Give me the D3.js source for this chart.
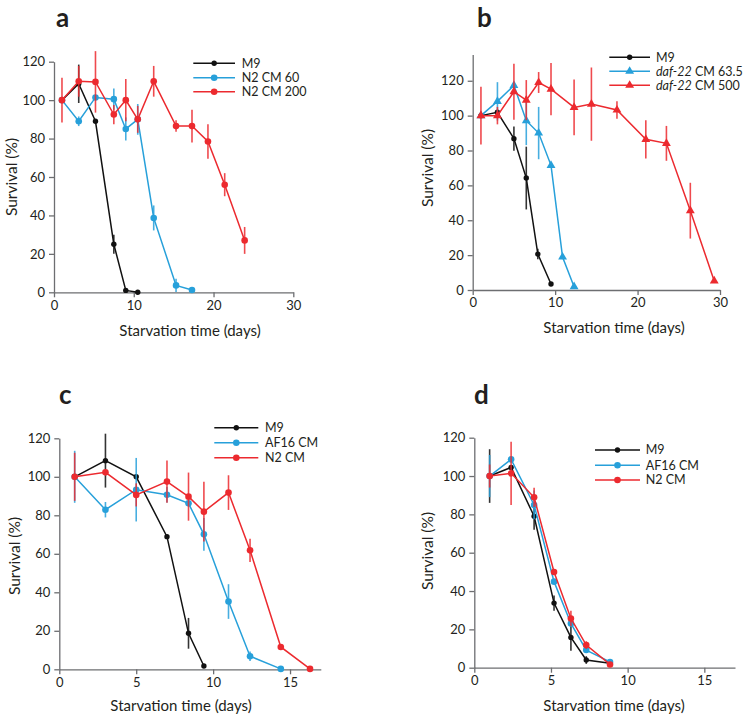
<!DOCTYPE html>
<html><head><meta charset="utf-8">
<script src="https://cdn.jsdelivr.net/npm/d3@7"></script>
<style>
body{margin:0;background:#fff}
svg text{font-family:Lato,"Open Sans",sans-serif;fill:#231f20}
</style></head><body>
<svg id="chart" width="744" height="718"></svg>
<script>
// ---------- DATA ----------
// Panel a
const aM9Days   = [1, 3.1, 5.2, 7.5, 9, 10.5];
const aM9       = [100, 108.5, 89, 25, 1, 0];
const aM9Err    = [0, 10, 0, 5, 0, 0];
const aN2_60Days = [1, 3.1, 5.2, 7.5, 9, 10.5, 12.5, 15.3, 17.3];
const aN2_60     = [100, 89, 101.4, 100.5, 85, 90, 38.7, 3.6, 1.2];
const aN2_60Err  = [0, 2.5, 0, 5.5, 6, 8, 6.5, 3.5, 0];
const aN2_200Days = [1, 3.1, 5.2, 7.5, 9, 10.5, 12.5, 15.3, 17.3, 19.3, 21.4, 23.9];
const aN2_200     = [100, 109.8, 109.5, 92.5, 100, 90, 109.8, 86.5, 86.5, 78.5, 56, 27];
const aN2_200Err  = [11.7, 8, 16, 5, 11, 7, 8, 3, 8.5, 9, 6, 7];
const aLegend = ["M9", "N2 CM 60", "N2 CM 200"];

// Panel b
const bM9Days = [1, 3, 5, 6.5, 7.9, 9.5];
const bM9     = [100, 101.9, 86.8, 64.2, 20.6, 3.4];
const bM9Err  = [0, 0, 7, 18, 3, 0];
const bD63Days = [1, 3, 5, 6.5, 8, 9.5, 10.9, 12.3];
const bD63     = [100, 108.2, 117.3, 97.1, 90, 71.5, 18.9, 1.9];
const bD63Err  = [0, 11, 0, 14, 15, 0, 0, 0];
const bD500Days = [1, 3, 5, 6.5, 8, 9.5, 12.3, 14.4, 17.5, 21, 23.5, 26.4, 29.3];
const bD500     = [100, 100, 113.7, 108.9, 119, 115.2, 104.7, 106.6, 103.2, 86.4, 84.1, 45.5, 5.2];
const bD500Err  = [16.5, 5, 16, 11.5, 6, 15, 16, 21, 5, 11, 10, 16, 0];
const bLegendItalic = ["", "daf-22", "daf-22"];
const bLegendRest   = ["M9", " CM 63.5", " CM 500"];

// Panel c
const cM9Days = [1, 3, 5, 7, 8.4, 9.4];
const cM9     = [100, 108.4, 100, 68.9, 18.7, 1.7];
const cM9Err  = [0, 14, 0, 0, 8, 0];
const cAFDays = [1, 3, 5, 7, 8.4, 9.4, 11, 12.4, 14.4];
const cAF     = [100, 82.9, 93.3, 90.7, 86.2, 70.1, 35.2, 6.8, 0.2];
const cAFErr  = [13.5, 4, 16.5, 4, 0, 8.5, 9, 2.5, 0];
const cN2Days = [1, 3, 5, 7, 8.4, 9.4, 11, 12.4, 14.4, 16.3];
const cN2     = [100, 102.3, 90.6, 97.5, 89.7, 81.9, 91.8, 61.8, 11.6, 0.2];
const cN2Err  = [12.5, 0, 6, 11, 12.5, 15.5, 9, 6, 0, 0];
const cLegend = ["M9", "AF16 CM", "N2 CM"];

// Panel d
const dDays  = [1, 2.4, 3.9, 5.2, 6.3, 7.3, 8.85];
const dM9    = [100, 104.5, 79, 33.7, 15.8, 4, 2.3];
const dM9Err = [14, 0, 7, 4, 7, 2, 0];
const dAF    = [100, 108.7, 84.9, 44.9, 23.1, 9.2, 3];
const dAFErr = [11, 0, 7.5, 0, 0, 0, 1];
const dN2    = [100, 101.4, 88.9, 49.9, 25.7, 11.8, 1.7];
const dN2Err = [6, 16.5, 5, 0, 4, 2, 0];
const dLegend = ["M9", "AF16 CM", "N2 CM"];

const yTicks = [0, 20, 40, 60, 80, 100, 120];
const xTicks30 = [0, 10, 20, 30];
const xTicks15 = [0, 5, 10, 15];

// ---------- STYLE ----------
const BLACK = "#111111", BLUE = "#27a0da", RED = "#ec2a2f";
const AXIS = "#6d6e71";

const mk = (days, vals, errs, color, shape) =>
  ({pts: days.map((d, i) => ({x: d, y: vals[i], e: errs[i]})), color, shape});

const panels = [
  {label: "a", xDom: [0, 30], xR: [54, 293.3], yDom: [0, 120], yR: [292.3, 61.7], xTicks: xTicks30,
   lab: [56, 26.5], ylab: [12, 177], xlab: [190, 331],
   series: [mk(aM9Days, aM9, aM9Err, BLACK, "c"), mk(aN2_60Days, aN2_60, aN2_60Err, BLUE, "c"), mk(aN2_200Days, aN2_200, aN2_200Err, RED, "c")],
   legend: {x1: 193.3, x2: 235, tx: 241.7, ys: [63.3, 77.7, 91.7], names: aLegend.map(n => ["", n])}},
  {label: "b", xDom: [0, 30], xR: [472.7, 720], yDom: [0, 135], yR: [290, 54.6], xTicks: xTicks30,
   lab: [477, 26.5], ylab: [428, 168], xlab: [614, 328],
   series: [mk(bM9Days, bM9, bM9Err, BLACK, "c"), mk(bD63Days, bD63, bD63Err, BLUE, "t"), mk(bD500Days, bD500, bD500Err, RED, "t")],
   legend: {x1: 609.3, x2: 650, tx: 656, ys: [57.3, 71.3, 85.3], names: bLegendRest.map((n, i) => [bLegendItalic[i], n])}},
  {label: "c", xDom: [0, 17], xR: [59.3, 320.8], yDom: [0, 120], yR: [669.3, 438.3], xTicks: xTicks15,
   lab: [59, 404], ylab: [15, 556], xlab: [181, 706],
   series: [mk(cM9Days, cM9, cM9Err, BLACK, "c"), mk(cAFDays, cAF, cAFErr, BLUE, "c"), mk(cN2Days, cN2, cN2Err, RED, "c")],
   legend: {x1: 214.3, x2: 258.3, tx: 265, ys: [427.7, 442.7, 457.7], names: cLegend.map(n => ["", n])}},
  {label: "d", xDom: [0, 17], xR: [474.3, 735], yDom: [0, 120], yR: [667.7, 437.7], xTicks: xTicks15,
   lab: [474, 404], ylab: [428, 551], xlab: [614, 706],
   series: [mk(dDays, dM9, dM9Err, BLACK, "c"), mk(dDays, dAF, dAFErr, BLUE, "c"), mk(dDays, dN2, dN2Err, RED, "c")],
   legend: {x1: 595, x2: 640, tx: 645.7, ys: [450, 465.3, 480], names: dLegend.map(n => ["", n])}}
];

const svg = d3.select("#chart");
const tri = d3.symbol().type(d3.symbolTriangle).size(34);

function marker(g, shape, color, x, y, big) {
  if (shape === "t") {
    g.append("path").attr("d", tri).attr("transform", `translate(${x},${y})`).attr("fill", color);
  } else {
    g.append("circle").attr("cx", x).attr("cy", y).attr("r", big ? 3.3 : 2.7).attr("fill", color);
  }
}

panels.forEach(p => {
  const x = d3.scaleLinear().domain(p.xDom).range(p.xR);
  const y = d3.scaleLinear().domain(p.yDom).range(p.yR);
  const g = svg.append("g");

  const yAx = g.append("g").attr("transform", `translate(${p.xR[0]},0)`)
    .call(d3.axisLeft(y).tickValues(yTicks).tickSize(5).tickSizeOuter(0).tickPadding(4));
  const xAx = g.append("g").attr("transform", `translate(0,${p.yR[0]})`)
    .call(d3.axisBottom(x).tickValues(p.xTicks).tickSize(5).tickSizeOuter(0).tickPadding(3));
  [yAx, xAx].forEach(a => {
    a.select(".domain").attr("stroke", AXIS).attr("stroke-width", 1.3);
    a.selectAll(".tick line").attr("stroke", AXIS).attr("stroke-width", 1.3);
    a.selectAll(".tick text").attr("font-size", 13).attr("fill", "#231f20")
      .style("font-family", "Lato, 'Open Sans', sans-serif");
  });

  const line = d3.line().x(d => x(d.x)).y(d => y(d.y));
  p.series.forEach(s => {
    const sg = g.append("g");
    sg.append("path").datum(s.pts).attr("d", line).attr("fill", "none")
      .attr("stroke", s.color).attr("stroke-width", 1.5);
    s.pts.filter(d => d.e > 0).forEach(d => {
      sg.append("line").attr("x1", x(d.x)).attr("x2", x(d.x))
        .attr("y1", y(d.y - d.e)).attr("y2", y(d.y + d.e))
        .attr("stroke", s.color).attr("stroke-width", 1.6).attr("stroke-opacity", 0.85);
    });
    s.pts.forEach(d => marker(sg, s.shape, s.color, x(d.x), y(d.y), s.color !== BLACK));
  });

  // legend
  const L = p.legend;
  p.series.forEach((s, i) => {
    const ly = L.ys[i];
    g.append("line").attr("x1", L.x1).attr("x2", L.x2).attr("y1", ly).attr("y2", ly)
      .attr("stroke", s.color).attr("stroke-width", 1.5);
    marker(g, s.shape, s.color, (L.x1 + L.x2) / 2, ly, s.color !== BLACK);
    const t = g.append("text").attr("x", L.tx).attr("y", ly).attr("dy", "0.35em").attr("font-size", 12.5);
    if (L.names[i][0]) t.append("tspan").attr("font-style", "italic").text(L.names[i][0]);
    t.append("tspan").text(L.names[i][1]);
  });

  // labels
  g.append("text").attr("x", p.lab[0]).attr("y", p.lab[1]).attr("font-size", 26)
    .attr("font-weight", "bold").text(p.label);
  g.append("text").attr("transform", `translate(${p.ylab[0]},${p.ylab[1]}) rotate(-90)`)
    .attr("text-anchor", "middle").attr("dy", "0.35em").attr("font-size", 15.5).text("Survival (%)");
  g.append("text").attr("x", p.xlab[0]).attr("y", p.xlab[1]).attr("text-anchor", "middle")
    .attr("dy", "0.35em").attr("font-size", 15).text("Starvation time (days)");
});
</script>
</body></html>
